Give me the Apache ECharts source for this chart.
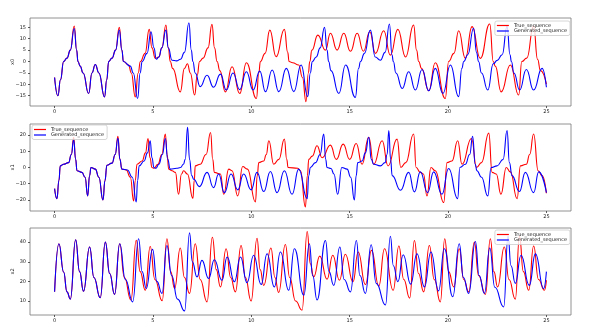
<!DOCTYPE html>
<html>
<head>
<meta charset="utf-8">
<title>sequence</title>
<script src="https://cdn.jsdelivr.net/npm/echarts@6.0.0/dist/echarts.min.js"></script>
<style>
html,body{margin:0;padding:0;background:#fff;}
#main{width:598px;height:336px;}
</style>
</head>
<body>
<div id="main"></div>
<script>
// [time, value]
var red0=[[0,-7],[0.17,-15],[0.3,-8],[0.46,0],[0.63,1.5],[0.8,5],[1.0,15.6],[1.12,5],[1.19,0],[1.3,-2],[1.45,-5],[1.73,-14],[1.9,-5],[2.07,-1.3],[2.25,-5],[2.54,-15.5],[2.65,-8],[2.75,0],[2.92,1.5],[3.1,5],[3.29,15],[3.42,5],[3.5,0],[3.76,-1.5],[3.9,-5],[4.1,-15.5],[4.25,-5],[4.36,0],[4.6,3.6],[4.81,14.1],[4.95,6],[5.12,1.4],[5.3,2],[5.45,6],[5.66,16],[5.78,6],[5.88,0],[6.0,-3],[6.39,-13.3],[6.6,-3],[6.75,-1],[6.9,-5],[7.12,-14.7],[7.25,-6],[7.37,0],[7.55,1.5],[7.8,6],[8.0,16.3],[8.13,6],[8.26,0],[8.4,-4],[8.68,-13.3],[9.02,-2.3],[9.41,-14],[9.75,-0.5],[10.26,-16.2],[10.38,-5],[10.46,0],[10.7,3.6],[10.94,13.8],[11.26,2.1],[11.68,14.1],[11.85,4],[11.92,0],[12.1,-0.5],[12.41,-1.5],[12.6,-7],[12.78,-17.6],[12.9,-5],[12.97,0],[13.08,5],[13.38,11.6],[13.77,5],[14.02,12.4],[14.36,5],[14.7,12.4],[15.04,4.5],[15.38,12.4],[15.7,4.5],[16.02,13.1],[16.31,3.6],[16.73,13.5],[17.07,2.8],[17.45,14.1],[17.84,2],[18.25,16],[18.4,5],[18.51,0],[18.65,-3],[19.02,-12.8],[19.35,-0.5],[19.86,-16.2],[20.03,0],[20.3,3.6],[20.54,13.5],[20.88,1.4],[21.22,15.3],[21.64,1.4],[22.12,16.5],[22.3,0],[22.4,-2],[22.7,-13.3],[23.17,-1.5],[23.59,-14.7],[23.75,0],[24.0,1.5],[24.35,15.6],[24.55,1],[24.7,-4],[25,-9.9]];
var blue0=[[0,-7],[0.17,-15],[0.3,-8],[0.46,0],[0.63,1.5],[0.8,5],[1.0,14.5],[1.12,5],[1.19,0],[1.3,-2],[1.45,-5],[1.73,-14],[1.9,-5],[2.07,-1.3],[2.25,-5],[2.54,-15.5],[2.65,-8],[2.75,0],[2.92,1.5],[3.1,5],[3.29,13.8],[3.42,5],[3.5,0],[3.85,-2],[4.0,-5],[4.22,-16.2],[4.35,-5],[4.45,0],[4.7,3.6],[4.9,13.1],[5.05,6],[5.17,1],[5.3,2],[5.45,6],[5.66,13.8],[5.78,6],[5.97,0.6],[6.2,0.3],[6.4,1],[6.6,4],[6.83,17],[6.95,5],[7.03,0],[7.15,-5],[7.4,-11],[7.75,-6],[8.08,-11.3],[8.43,-5.5],[8.73,-12.5],[9.07,-5],[9.41,-12.3],[9.75,-4.5],[10.09,-12.5],[10.43,-4.2],[10.72,-13.2],[11.06,-3.7],[11.4,-13.2],[11.78,-3],[12.16,-13.2],[12.53,-1.5],[12.87,-15.4],[13.0,-5],[13.1,0],[13.3,2],[13.5,6],[13.72,15],[13.85,5],[13.93,0],[14.05,-4],[14.45,-14],[14.79,-1.5],[15.29,-15.7],[15.45,-3],[15.55,0],[15.75,3.6],[16.05,13.8],[16.3,2],[16.56,0.6],[16.8,4],[17.02,16.5],[17.15,3],[17.22,0],[17.35,-5],[17.67,-11.8],[18.0,-4.5],[18.34,-12.5],[18.68,-3.5],[19.02,-12.8],[19.35,-3],[19.74,-14],[20.12,-1.5],[20.54,-15.4],[20.7,-3],[20.8,0],[21.0,3],[21.3,14.6],[21.45,4],[21.55,0],[21.7,-5],[22.02,-12.5],[22.3,-1],[22.5,0.5],[22.75,3],[23.0,15.5],[23.15,3],[23.22,0],[23.35,-5],[23.64,-12.5],[23.98,-3.5],[24.35,-12.5],[24.78,-3],[25,-11.3]];

var red1=[[0,-13],[0.12,-19.2],[0.22,-8],[0.29,1],[0.45,2],[0.71,3],[0.85,8],[0.97,18.6],[1.07,5],[1.14,-2],[1.39,-3],[1.55,-6],[1.68,-17.5],[1.78,-5],[1.85,0],[2.07,-1],[2.25,-6],[2.46,-20],[2.56,-8],[2.66,1.4],[2.92,2.7],[3.08,8],[3.22,19.2],[3.32,5],[3.42,-1],[3.64,-1.5],[3.85,-6],[4.02,-20.6],[4.1,-8],[4.19,2],[4.45,4],[4.62,9],[4.75,17.9],[4.85,6],[4.95,0],[5.05,-0.5],[5.25,2],[5.45,8],[5.63,20.6],[5.72,8],[5.8,-1],[5.97,-2],[6.14,-3],[6.3,-16.5],[6.45,-4],[6.56,-2],[6.75,-4],[7.03,-19],[7.1,-8],[7.15,1],[7.4,2],[7.7,8],[7.93,21.6],[8.04,5],[8.12,-3],[8.43,-4],[8.6,-16.5],[8.85,-1],[9.02,-2],[9.31,-17.5],[9.56,0.6],[9.8,-1],[10.21,-21.2],[10.3,-5],[10.38,3],[10.63,4],[10.76,8],[10.89,16.5],[11.14,2],[11.4,5],[11.68,17.5],[11.8,5],[11.87,0],[12.36,-0.5],[12.5,-2],[12.75,-24.3],[12.85,-5],[12.92,5],[13.1,7],[13.34,13.4],[13.6,6],[14.02,13.8],[14.32,5],[14.67,14.4],[15.0,5],[15.33,14.8],[15.63,2],[15.97,18.6],[16.22,2],[16.65,16.5],[16.95,1],[17.41,17.5],[17.6,0],[17.85,3],[18.25,20.6],[18.38,0],[18.59,-3],[18.75,-4],[18.93,-17.5],[19.13,0],[19.35,-2],[19.78,-21.6],[19.95,3],[20.2,4],[20.49,16.5],[20.71,2],[21.19,17.9],[21.45,0],[21.7,3],[22.07,21.2],[22.24,-3],[22.45,-4],[22.69,-16.5],[22.96,0],[23.17,-2.7],[23.51,-19.2],[23.68,1],[23.98,2],[24.15,8],[24.35,20.6],[24.58,-2],[24.78,-5],[25,-15.9]];
var blue1=[[0,-13],[0.12,-19.2],[0.22,-8],[0.29,1],[0.45,2],[0.71,3],[0.85,8],[0.97,17],[1.07,5],[1.14,-2],[1.39,-3],[1.55,-6],[1.68,-17.5],[1.78,-5],[1.85,0],[2.07,-1],[2.25,-6],[2.46,-20],[2.56,-8],[2.66,1.4],[2.92,2.7],[3.08,8],[3.22,18],[3.32,5],[3.42,-1],[3.7,-1.5],[3.95,-6],[4.15,-21.2],[4.22,-8],[4.3,1],[4.55,4],[4.72,9],[4.86,16.5],[4.95,6],[5.05,0],[5.15,-0.5],[5.3,2],[5.48,8],[5.63,17.9],[5.75,5],[5.88,-1],[6.2,-0.5],[6.4,0],[6.55,2],[6.64,5],[6.76,24.7],[6.86,5],[6.97,-5],[7.07,-7.2],[7.36,-11.8],[7.75,-3],[8.08,-12.4],[8.34,-4],[8.63,-15.5],[8.97,-4],[9.31,-13.8],[9.61,-4],[9.99,-13.8],[10.29,-3],[10.63,-14.8],[10.97,-2.5],[11.31,-15.5],[11.68,-2],[12.07,-16.5],[12.41,-1],[12.84,-19.2],[12.92,-5],[13.0,0],[13.26,3],[13.5,8],[13.68,20.6],[13.78,5],[13.85,0],[14.05,-0.6],[14.2,-4],[14.39,-16.5],[14.6,0],[14.87,-1],[15.05,-6],[15.24,-20],[15.33,-5],[15.41,3],[15.63,4],[15.8,9],[15.97,18.6],[16.1,5],[16.22,2],[16.56,1],[16.8,3],[16.9,8],[16.99,22.7],[17.08,5],[17.16,-5],[17.58,-14],[18.0,-3],[18.29,-15],[18.59,-2.7],[18.96,-15.5],[19.27,-2.7],[19.69,-16.5],[20.03,-0.6],[20.49,-19.2],[20.6,0],[20.88,2],[21.1,8],[21.25,19.2],[21.38,2],[21.47,-2],[21.7,-6],[22.02,-17.5],[22.19,0],[22.49,1],[22.8,5],[23.0,22.7],[23.12,3],[23.25,-5],[23.63,-14.8],[23.93,-3],[24.35,-15.5],[24.61,-2.7],[25,-15.5]];

var red2=[[0,14.7],[0.22,39.2],[0.46,24.8],[0.63,14.7],[0.8,11],[1.07,41.2],[1.27,25],[1.47,15],[1.78,37.5],[2.0,22],[2.32,11.7],[2.58,40],[2.8,24],[3.05,13.4],[3.31,39.2],[3.55,22],[3.88,10.5],[4.15,41],[4.35,25],[4.61,15.5],[4.86,37.8],[5.1,21],[5.47,10.2],[5.71,41.7],[5.9,25],[6.1,16.4],[6.39,37],[6.6,22],[6.86,13.9],[7.15,39.2],[7.4,21],[7.75,9.6],[8.02,42.5],[8.22,26],[8.43,17.2],[8.72,36.6],[8.95,22],[9.19,14.7],[9.48,38.3],[9.7,22],[9.99,10],[10.29,42],[10.45,26],[10.63,18],[11.0,37],[11.2,22],[11.39,14.4],[11.73,38.8],[11.95,22],[12.25,10],[12.58,5.4],[12.84,45.4],[13.0,29],[13.17,22.3],[13.48,32.9],[13.85,21.1],[14.14,33.3],[14.48,20.6],[14.78,33.8],[15.17,19.8],[15.43,35],[15.8,18.4],[16.11,35.8],[16.48,17.6],[16.77,36.6],[17.21,15.5],[17.5,38],[17.75,21],[18.05,11.5],[18.29,40.8],[18.5,24],[18.76,14.7],[19.05,38.3],[19.3,21],[19.61,9.6],[19.83,41.7],[20.03,25],[20.29,17.2],[20.57,36.6],[20.8,21],[21.05,14.7],[21.34,40],[21.55,23],[21.9,13.4],[22.15,41.7],[22.33,25],[22.52,17.2],[22.86,37.5],[23.1,21],[23.42,11],[23.63,43],[23.83,25],[24.1,15.5],[24.35,38],[24.6,21],[24.9,15.5],[25,20.6]];
var blue2=[[0,14.7],[0.22,39.2],[0.46,24.8],[0.63,14.7],[0.8,11],[1.07,41.2],[1.27,25],[1.47,15],[1.78,37.5],[2.0,22],[2.32,11.7],[2.58,40],[2.8,24],[3.05,13.4],[3.31,39.2],[3.6,21],[3.97,9.6],[4.27,41.7],[4.45,25],[4.66,16.4],[4.98,36.3],[5.2,20],[5.46,13.9],[5.71,38.3],[5.95,23],[6.25,11],[6.61,5],[6.86,44.7],[7.0,30],[7.24,22.3],[7.49,30.7],[7.83,21.5],[8.12,31],[8.51,20.6],[8.77,32.4],[9.14,19.8],[9.45,32.4],[9.78,19.3],[10.12,33.3],[10.5,18.4],[10.8,34.1],[11.17,17.2],[11.48,35],[11.9,15.5],[12.19,36.6],[12.67,13],[12.95,39.2],[13.12,23],[13.34,10.5],[13.77,40.8],[13.95,25],[14.19,18],[14.5,37.5],[14.72,21],[15.04,14.7],[15.34,40.8],[15.52,23],[15.8,13.9],[16.09,38.7],[16.35,19],[16.82,8],[17.07,43],[17.22,28],[17.45,19.8],[17.72,33.6],[18.1,18.6],[18.42,34.1],[18.8,17.2],[19.13,35],[19.52,15.2],[19.81,36.6],[20.24,12.2],[20.57,39.2],[20.78,22],[21.05,13.9],[21.39,40.3],[21.58,23],[21.85,13.9],[22.12,37],[22.38,17],[22.83,7],[23.05,43],[23.2,28],[23.42,19],[23.71,33.3],[24.13,18],[24.44,34],[24.86,16.4],[25,25]];

var xTicks=[0,5,10,15,20,25];
var yTicks0=[-15,-10,-5,0,5,10,15];
var yTicks1=[-20,-10,0,10,20];
var yTicks2=[10,20,30,40];
var names=['True_sequence','Generated_sequence'];

var myCharts=echarts.init(document.getElementById('main'));
var font='DejaVu Sans';

function fmt(v)
{
	return String(v).replace('-','\u2212');
}
function makeX(i)
{
	return {
		type:'value',gridIndex:i,min:-1.25,max:26.25,
		axisLine:{show:false,onZero:false},
		splitLine:{show:false},
		axisTick:{show:true,length:2,customValues:xTicks,lineStyle:{color:'#333',width:0.8}},
		axisLabel:{customValues:xTicks,fontSize:5,fontFamily:font,color:'#222',margin:3,formatter:fmt}
	};
}
function makeY(i,min,max,ticks,name)
{
	return {
		type:'value',gridIndex:i,min:min,max:max,
		name:name,nameLocation:'middle',nameGap:15,nameRotate:90,nameMoveOverlap:false,
		nameTextStyle:{fontSize:5,fontFamily:font,color:'#222'},
		axisLine:{show:false,onZero:false},
		splitLine:{show:false},
		axisTick:{show:true,length:2,customValues:ticks,lineStyle:{color:'#333',width:0.8}},
		axisLabel:{customValues:ticks,fontSize:5,fontFamily:font,color:'#222',margin:4,formatter:fmt}
	};
}
function makeLegend(pos)
{
	var l={
		orient:'vertical',data:names,icon:'rect',itemWidth:12,itemHeight:1.2,itemGap:0.5,
		padding:[2,3,2,2],borderColor:'#ccc',borderWidth:0.8,borderRadius:2,
		backgroundColor:'rgba(255,255,255,0.8)',
		textStyle:{fontSize:5,fontFamily:font,color:'#222'}
	};
	for(var k in pos) l[k]=pos[k];
	return l;
}
function line(name,color,data,i)
{
	return {
		name:name,type:'line',xAxisIndex:i,yAxisIndex:i,data:data,
		color:color,showSymbol:false,smooth:0.5,smoothMonotone:'x',
		lineStyle:{color:color,width:1.1},z:color=='blue'?3:2
	};
}
function makeGrid(top,h)
{
	return {left:30,top:top,width:541,height:h,show:true,borderColor:'#777',borderWidth:0.8,
		outerBoundsMode:'none',containLabel:false};
}

var option={
	animation:false,
	backgroundColor:'#fff',
	grid:[makeGrid(18,88),makeGrid(124,87),makeGrid(228,87)],
	xAxis:[makeX(0),makeX(1),makeX(2)],
	yAxis:[
		makeY(0,-19.5,19.1,yTicks0,'x0'),
		makeY(1,-26.8,26.8,yTicks1,'x1'),
		makeY(2,2.9,47.2,yTicks2,'x2')
	],
	legend:[
		makeLegend({right:28,top:21}),
		makeLegend({left:32,top:125}),
		makeLegend({right:28,top:230})
	],
	series:[
		line(names[0],'red',red0,0),
		line(names[1],'blue',blue0,0),
		line(names[0],'red',red1,1),
		line(names[1],'blue',blue1,1),
		line(names[0],'red',red2,2),
		line(names[1],'blue',blue2,2)
	]
};
myCharts.setOption(option);
</script>
</body>
</html>
